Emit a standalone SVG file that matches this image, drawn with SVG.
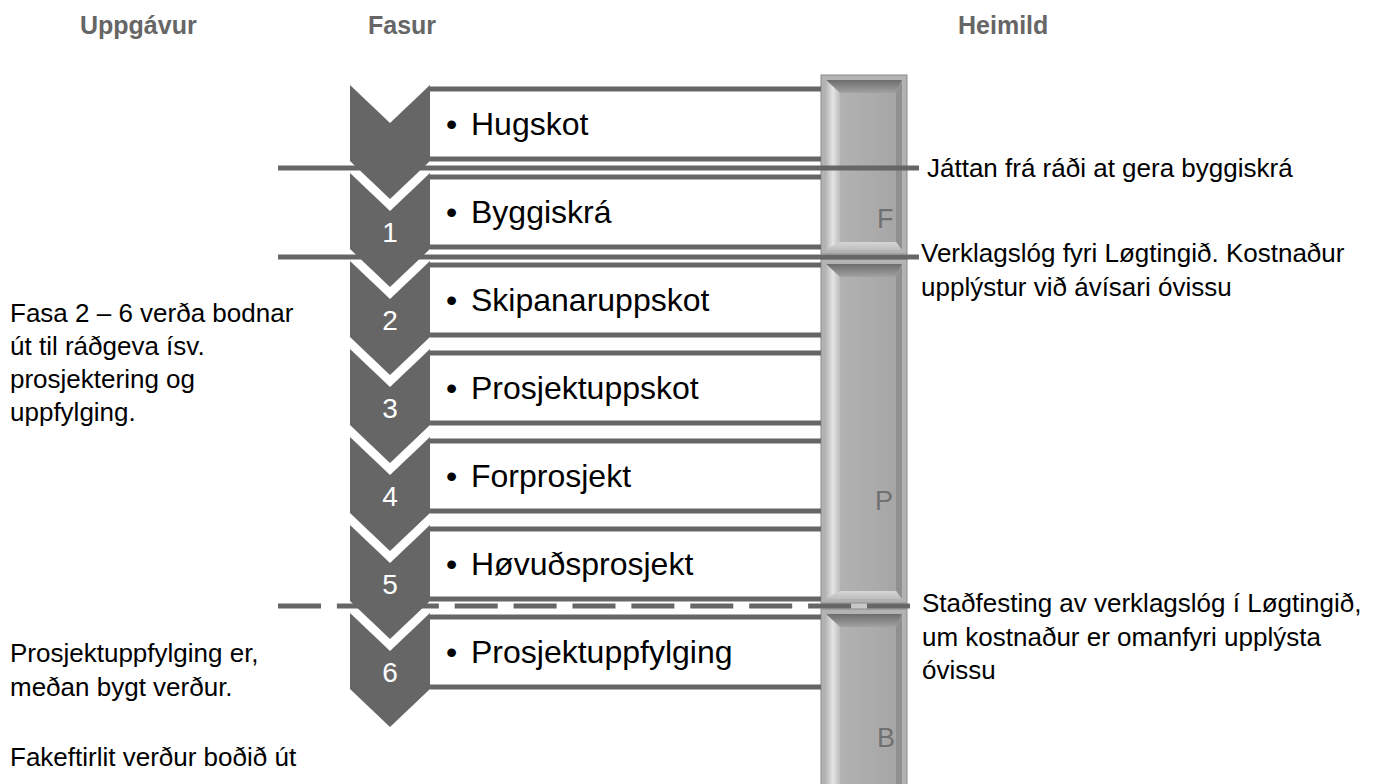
<svg xmlns="http://www.w3.org/2000/svg" width="1383" height="784" viewBox="0 0 1383 784">
<style>
.hdr{font-family:"Liberation Sans",Arial,sans-serif;font-weight:bold;font-size:25px;fill:#666}
.txt{font-family:"Liberation Sans",Arial,sans-serif;font-size:26px;fill:#000}
.lbl{font-family:"Liberation Sans",Arial,sans-serif;font-size:32px;fill:#000}
.num{font-family:"Liberation Sans",Arial,sans-serif;font-size:28px;fill:#fff;text-anchor:middle}
.bl{font-family:"Liberation Sans",Arial,sans-serif;font-size:27px;fill:#707070}
.chev{fill:#666}
.boxl{stroke:#666;stroke-width:5;fill:none}
.sep{stroke:#666;stroke-width:5;fill:none}
.out{fill:#b3b3b3;stroke:#8a8a8a;stroke-width:1}
</style>
<defs>
<linearGradient id="gTop" x1="0" y1="0" x2="0" y2="1"><stop offset="0" stop-color="#6c6c6c"/><stop offset="1" stop-color="#a2a2a2"/></linearGradient>
<linearGradient id="gLeft" x1="0" y1="0" x2="1" y2="0"><stop offset="0" stop-color="#b8b8b8"/><stop offset="0.5" stop-color="#e4e4e4"/><stop offset="1" stop-color="#bcbcbc"/></linearGradient>
<linearGradient id="gBot" x1="0" y1="0" x2="0" y2="1"><stop offset="0" stop-color="#d6d6d6"/><stop offset="1" stop-color="#bdbdbd"/></linearGradient>
<linearGradient id="gFace" x1="0" y1="0" x2="1" y2="0"><stop offset="0" stop-color="#b2b2b2"/><stop offset="1" stop-color="#a6a6a6"/></linearGradient>
</defs>
<rect width="1383" height="784" fill="#fff"/>

<g id="headers">
<text class="hdr" x="80" y="34">Uppgávur</text>
<text class="hdr" x="368" y="34">Fasur</text>
<text class="hdr" x="958" y="34">Heimild</text>
</g>

<g id="bar">
<rect x="821" y="600" width="86" height="12" fill="#c8c8c8"/>
<g id="bar-F">
<rect class="out" x="821" y="75" width="86" height="179"/>
<polygon fill="url(#gTop)" points="826,80 902,80 896,93 840,93"/>
<polygon fill="url(#gLeft)" points="826,80 840,93 840,242 826,250"/>
<polygon fill="#909090" points="902,80 902,250 896,242 896,93"/>
<polygon fill="url(#gBot)" points="826,250 840,242 896,242 902,250"/>
<rect fill="url(#gFace)" x="840" y="93" width="56" height="149"/>
<text class="bl" x="877" y="228">F</text>
</g>
<g id="bar-P">
<rect class="out" x="821" y="259" width="86" height="344"/>
<polygon fill="url(#gTop)" points="826,264 902,264 896,277 840,277"/>
<polygon fill="url(#gLeft)" points="826,264 840,277 840,591 826,599"/>
<polygon fill="#909090" points="902,264 902,599 896,591 896,277"/>
<polygon fill="url(#gBot)" points="826,599 840,591 896,591 902,599"/>
<rect fill="url(#gFace)" x="840" y="277" width="56" height="314"/>
<text class="bl" x="875" y="510">P</text>
</g>
<g id="bar-B">
<rect class="out" x="821" y="609" width="86" height="190"/>
<polygon fill="url(#gTop)" points="826,614 902,614 896,627 840,627"/>
<polygon fill="url(#gLeft)" points="826,614 840,627 840,790 826,795"/>
<polygon fill="#909090" points="902,614 902,795 896,790 896,627"/>
<rect fill="url(#gFace)" x="840" y="627" width="56" height="163"/>
<text class="bl" x="877" y="747">B</text>
</g>
</g>

<g id="phase0">
<polygon class="chev" points="350,85 390,123 430,85 430,161 390,199 350,161"/>
<line class="boxl" x1="430" y1="89" x2="821" y2="89"/><line class="boxl" x1="430" y1="159" x2="821" y2="159"/>
<text class="lbl" y="135"><tspan x="446">•</tspan><tspan x="471">Hugskot</tspan></text>
</g>
<g id="phase1">
<polygon class="chev" points="350,173 390,211 430,173 430,249 390,287 350,249"/>
<text class="num" x="390" y="242">1</text>
<line class="boxl" x1="430" y1="177" x2="821" y2="177"/><line class="boxl" x1="430" y1="247" x2="821" y2="247"/>
<text class="lbl" y="223"><tspan x="446">•</tspan><tspan x="471">Byggiskrá</tspan></text>
</g>
<g id="phase2">
<polygon class="chev" points="350,261 390,299 430,261 430,337 390,375 350,337"/>
<text class="num" x="390" y="330">2</text>
<line class="boxl" x1="430" y1="265" x2="821" y2="265"/><line class="boxl" x1="430" y1="335" x2="821" y2="335"/>
<text class="lbl" y="311"><tspan x="446">•</tspan><tspan x="471">Skipanaruppskot</tspan></text>
</g>
<g id="phase3">
<polygon class="chev" points="350,349 390,387 430,349 430,425 390,463 350,425"/>
<text class="num" x="390" y="418">3</text>
<line class="boxl" x1="430" y1="353" x2="821" y2="353"/><line class="boxl" x1="430" y1="423" x2="821" y2="423"/>
<text class="lbl" y="399"><tspan x="446">•</tspan><tspan x="471">Prosjektuppskot</tspan></text>
</g>
<g id="phase4">
<polygon class="chev" points="350,437 390,475 430,437 430,513 390,551 350,513"/>
<text class="num" x="390" y="506">4</text>
<line class="boxl" x1="430" y1="441" x2="821" y2="441"/><line class="boxl" x1="430" y1="511" x2="821" y2="511"/>
<text class="lbl" y="487"><tspan x="446">•</tspan><tspan x="471">Forprosjekt</tspan></text>
</g>
<g id="phase5">
<polygon class="chev" points="350,525 390,563 430,525 430,601 390,639 350,601"/>
<text class="num" x="390" y="594">5</text>
<line class="boxl" x1="430" y1="529" x2="821" y2="529"/><line class="boxl" x1="430" y1="599" x2="821" y2="599"/>
<text class="lbl" y="575"><tspan x="446">•</tspan><tspan x="471">Høvuðsprosjekt</tspan></text>
</g>
<g id="phase6">
<polygon class="chev" points="350,613 390,651 430,613 430,689 390,727 350,689"/>
<text class="num" x="390" y="682">6</text>
<line class="boxl" x1="430" y1="617" x2="821" y2="617"/><line class="boxl" x1="430" y1="687" x2="821" y2="687"/>
<text class="lbl" y="663"><tspan x="446">•</tspan><tspan x="471">Prosjektuppfylging</tspan></text>
</g>

<g id="connectors">
<line class="sep" x1="278" y1="168" x2="919" y2="168"/>
<line class="sep" x1="278" y1="257" x2="919" y2="257"/>
<line class="sep" x1="278" y1="606" x2="910" y2="606" stroke-dasharray="43 15.9"/>
</g>

<g id="note-left-1">
<text class="txt" x="10" y="322">Fasa 2 – 6 verða bodnar</text>
<text class="txt" x="10" y="355">út til ráðgeva ísv.</text>
<text class="txt" x="10" y="388">prosjektering og</text>
<text class="txt" x="10" y="421">uppfylging.</text>
</g>
<g id="note-left-2">
<text class="txt" x="10" y="662">Prosjektuppfylging er,</text>
<text class="txt" x="10" y="696">meðan bygt verður.</text>
<text class="txt" x="10" y="766">Fakeftirlit verður boðið út</text>
</g>
<g id="note-right-1">
<text class="txt" x="927" y="177">Játtan frá ráði at gera byggiskrá</text>
</g>
<g id="note-right-2">
<text class="txt" x="921" y="262">Verklagslóg fyri Løgtingið. Kostnaður</text>
<text class="txt" x="921" y="296">upplýstur við ávísari óvissu</text>
</g>
<g id="note-right-3">
<text class="txt" x="922" y="612">Staðfesting av verklagslóg í Løgtingið,</text>
<text class="txt" x="922" y="646">um kostnaður er omanfyri upplýsta</text>
<text class="txt" x="922" y="679">óvissu</text>
</g>
</svg>
